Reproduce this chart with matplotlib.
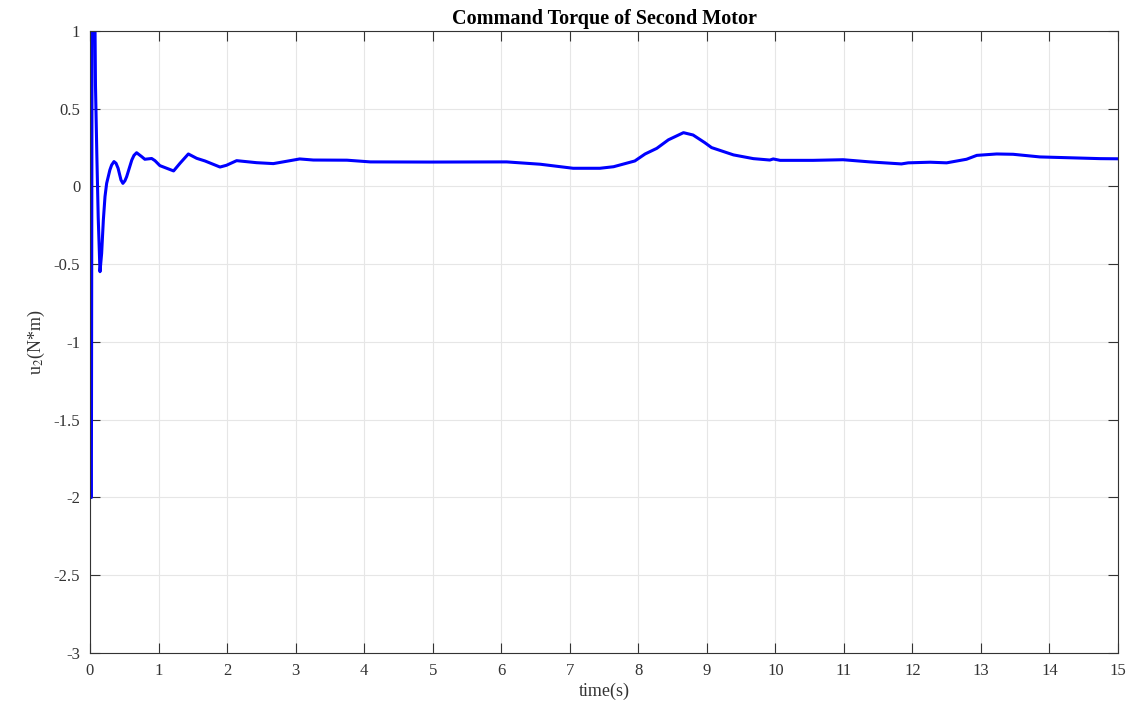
import numpy as np
import matplotlib.pyplot as plt

# command torque of the second motor
t = [0.0, 0.008, 0.02, 0.032, 0.045, 0.07, 0.08, 0.1, 0.12, 0.146, 0.17, 0.195,
     0.219, 0.243, 0.29, 0.316, 0.35, 0.38, 0.41, 0.452, 0.48, 0.51, 0.535, 0.61,
     0.642, 0.68, 0.754, 0.8, 0.9, 0.948, 1.02, 1.12, 1.22, 1.313, 1.435, 1.557,
     1.678, 1.897, 1.99, 2.14, 2.43, 2.675, 2.92, 3.06, 3.26, 3.75, 4.09, 4.96,
     6.08, 6.57, 7.05, 7.44, 7.64, 7.95, 8.1, 8.27, 8.44, 8.66, 8.8, 8.97, 9.07,
     9.22, 9.39, 9.68, 9.92, 9.97, 10.07, 10.55, 10.99, 11.38, 11.84, 11.94,
     12.26, 12.5, 12.79, 12.94, 13.23, 13.47, 13.86, 14.74, 15.0]
u2 = [0.2, -2.0, -2.0, 1.5, 1.5, 1.2, 0.65, 0.2, -0.2, -0.548, -0.43, -0.215,
      -0.065, 0.02, 0.106, 0.138, 0.16, 0.149, 0.117, 0.042, 0.02, 0.037, 0.063, 0.17,
      0.2, 0.217, 0.192, 0.175, 0.18, 0.166, 0.134, 0.117, 0.1, 0.149, 0.209, 0.181,
      0.164, 0.125, 0.136, 0.166, 0.153, 0.147, 0.166, 0.177, 0.17, 0.169, 0.158, 0.157,
      0.158, 0.143, 0.117, 0.117, 0.127, 0.164, 0.209, 0.245, 0.3, 0.346, 0.331, 0.282, 0.25,
      0.228, 0.203, 0.179, 0.17, 0.177, 0.168, 0.168, 0.172, 0.158, 0.145, 0.152,
      0.156, 0.152, 0.175, 0.2, 0.209, 0.207, 0.19, 0.179, 0.178]

plt.rcParams['font.family'] = ['Liberation Serif', 'DejaVu Serif']
plt.rcParams['mathtext.fontset'] = 'stix'

fig = plt.figure(figsize=(11.32, 7.07), dpi=100)
ax = fig.add_axes([0.0795, 0.0764, 0.9081, 0.8798])

ax.plot(t, u2, color='#0000ff', linewidth=2.2)

ax.set_xlim(0, 15)
ax.set_ylim(-3, 1)
ax.set_xticks(np.arange(0, 16, 1))
ax.set_yticks(np.arange(-3, 1.01, 0.5))
ax.set_yticklabels(['-3', '-2.5', '-2', '-1.5', '-1', '-0.5', '0', '0.5', '1'])
ax.grid(True, color='#e6e6e6', linewidth=0.8)
ax.tick_params(direction='in', length=7, width=0.8, top=True, right=True,
               labelsize=12, colors='#333333', pad=7)
for s in ax.spines.values():
    s.set_color('#333333')
    s.set_linewidth(0.8)

ax.set_title('Command Torque of Second Motor', fontweight='bold', fontsize=14.5, pad=5)
ax.set_xlabel('time(s)', fontsize=13, color='#333333', labelpad=3)
ax.set_ylabel('u$_2$(N*m)', fontsize=13, color='#333333', labelpad=5)

fig.savefig('out.png', dpi=100)
